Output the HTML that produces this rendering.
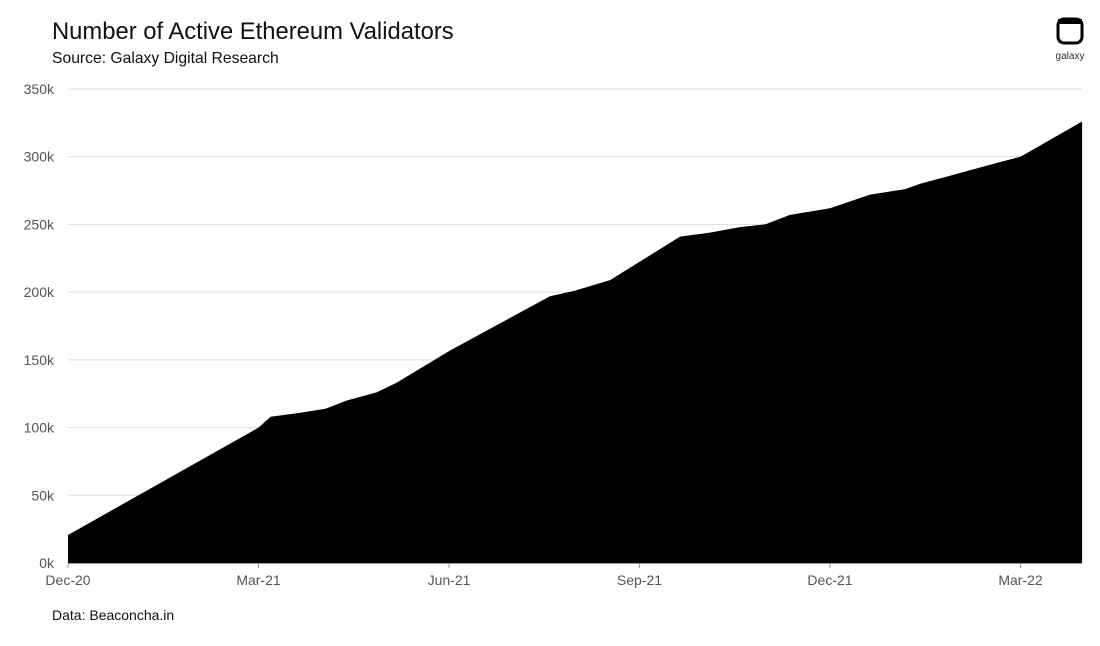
<!DOCTYPE html>
<html><head><meta charset="utf-8"><style>
body{margin:0;background:#fff;font-family:"Liberation Sans",sans-serif;}
svg text{font-family:"Liberation Sans",sans-serif;}
</style></head><body>
<svg id="chart" width="1100" height="641">
<text x="52" y="39" font-size="23.8" fill="#111">Number of Active Ethereum Validators</text>
<text x="52" y="63" font-size="15.7" fill="#111">Source: Galaxy Digital Research</text>
<text x="52" y="620" font-size="14" fill="#111">Data: Beaconcha.in</text>
<g>
<rect x="1058" y="19" width="24" height="24" rx="6" fill="none" stroke="#000" stroke-width="3"/>
<rect x="1058" y="19" width="24" height="5" fill="#000"/>
<text x="1070" y="59" font-size="10" text-anchor="middle" fill="#333">galaxy</text>
</g>
<g id="grid"></g><g id="area"></g><g id="axes"></g>
</svg>
<script>
const months=[0,3,3.19,3.66,4.06,4.39,4.86,5.17,6.02,7.59,7.98,8.54,9.64,10.11,10.58,10.98,11.37,12.0,12.63,13.18,13.42,13.89,14.52,15.0,15.97];
const validators=[20.7,100,108,111,114,120,126,133,157,197,201,209,241,244,248,250,257,262,272,276,280,286,294,300,326];
const yTicks=[0,50,100,150,200,250,300,350];
const xLabels=["Dec-20","Mar-21","Jun-21","Sep-21","Dec-21","Mar-22"];
const xLabelMonths=[0,3,6,9,12,15];
const x0=68,xPerMonth=63.5,yBase=563,yPerK=474/350;
const X=m=>x0+m*xPerMonth, Y=v=>yBase-v*yPerK;
const NS="http://www.w3.org/2000/svg";
const grid=document.getElementById('grid'),axes=document.getElementById('axes'),area=document.getElementById('area');
yTicks.forEach(t=>{
 const l=document.createElementNS(NS,'line');
 l.setAttribute('x1',68);l.setAttribute('x2',1082);l.setAttribute('y1',Y(t));l.setAttribute('y2',Y(t));
 l.setAttribute('stroke','#ddd');
 
 
 grid.appendChild(l);
 const tx=document.createElementNS(NS,'text');
 tx.setAttribute('x',54);tx.setAttribute('y',Y(t)+5);tx.setAttribute('font-size','14');tx.setAttribute('fill','#555');tx.setAttribute('text-anchor','end');
 tx.textContent=t+'k';
 
 
 axes.appendChild(tx);
});
xLabels.forEach((s,i)=>{
 const tx=document.createElementNS(NS,'text');
 tx.setAttribute('x',X(xLabelMonths[i]));tx.setAttribute('y',585);tx.setAttribute('font-size','14');tx.setAttribute('fill','#555');tx.setAttribute('text-anchor','middle');
 tx.textContent=s;
 
 
 axes.appendChild(tx);
 const tk=document.createElementNS(NS,'line');
 tk.setAttribute('x1',X(xLabelMonths[i]));tk.setAttribute('x2',X(xLabelMonths[i]));tk.setAttribute('y1',563);tk.setAttribute('y2',568);tk.setAttribute('stroke','#999');
 
 
 axes.appendChild(tk);
});
let d='M'+X(months[0])+','+yBase;
months.forEach((m,i)=>{d+=' L'+X(m).toFixed(1)+','+Y(validators[i]).toFixed(1);});
d+=' L'+X(months[months.length-1])+','+yBase+' Z';
const p=document.createElementNS(NS,'path');
p.setAttribute('d',d);p.setAttribute('fill','#000');


area.appendChild(p);
const ax=document.createElementNS(NS,'line');
ax.setAttribute('x1',68);ax.setAttribute('x2',1082);ax.setAttribute('y1',563.5);ax.setAttribute('y2',563.5);ax.setAttribute('stroke','#999');


axes.appendChild(ax);
</script>
</body></html>
